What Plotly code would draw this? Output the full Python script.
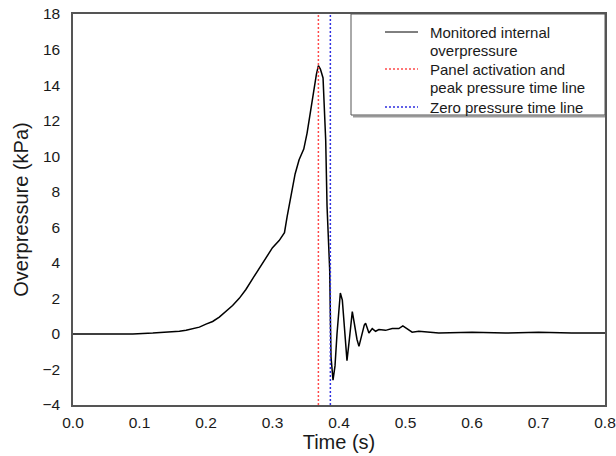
import plotly.graph_objects as go

# Monitored internal overpressure
time_s = [0.00, 0.03, 0.06, 0.09, 0.12, 0.14, 0.16, 0.17, 0.18, 0.19, 0.20, 0.21, 0.22,
          0.23, 0.24, 0.25, 0.26, 0.27, 0.28, 0.29, 0.30, 0.31, 0.318, 0.322, 0.328,
          0.334, 0.340, 0.347, 0.352, 0.357, 0.362, 0.366, 0.369, 0.372, 0.376, 0.378,
          0.380, 0.382, 0.384, 0.386, 0.387, 0.388, 0.391, 0.394, 0.397, 0.400, 0.402,
          0.405, 0.407, 0.410, 0.412, 0.415, 0.418, 0.420, 0.423, 0.427, 0.430, 0.434,
          0.438, 0.440, 0.445, 0.450, 0.455, 0.460, 0.470, 0.480, 0.490, 0.496, 0.500,
          0.510, 0.520, 0.550, 0.600, 0.650, 0.700, 0.750, 0.800]
pressure_kpa = [0.0, 0.0, 0.0, 0.0, 0.05, 0.08, 0.15, 0.2, 0.28, 0.38, 0.55, 0.7, 0.95,
                1.25, 1.6, 2.0, 2.5, 3.1, 3.7, 4.3, 4.85, 5.25, 5.7, 6.6, 7.8,
                9.0, 9.8, 10.4, 11.3, 12.5, 13.7, 14.6, 15.1, 14.9, 14.4, 12.8,
                10.9, 7.2, 5.0, 3.6, 1.0, -1.3, -2.6, -1.8, 0.0, 1.6, 2.3,
                1.9, 1.0, -0.5, -1.5, -0.5, 0.8, 1.25, 0.6, -0.3, -0.7, 0.0,
                0.5, 0.6, 0.05, 0.3, 0.15, 0.25, 0.2, 0.3, 0.3, 0.45, 0.35,
                0.1, 0.15, 0.05, 0.1, 0.05, 0.1, 0.05, 0.05]

# Time lines
peak_time = 0.369
zero_time = 0.387
y_range = [-4, 18]
x_range = [0, 0.8]

x_ticks = [0.0, 0.1, 0.2, 0.3, 0.4, 0.5, 0.6, 0.7, 0.8]
y_ticks = [-4, -2, 0, 2, 4, 6, 8, 10, 12, 14, 16, 18]

legend_labels = [["Monitored internal", "overpressure"],
                 ["Panel activation and", "peak pressure time line"],
                 ["Zero pressure time line"]]

FONT = "Liberation Sans, Arial, sans-serif"
TXT = "#1a1a1a"
BLACK_LINE = dict(color="black", width=1.5)
RED_LINE = dict(color="#ff4a4a", width=1.5, dash="2px,2px")
BLUE_LINE = dict(color="#2e2ee0", width=1.5, dash="2px,2px")

# figure / plot-area geometry in pixels
W, H = 616, 456
L, R, T, B = 73, 605, 14, 405


def px(xp):
    return (xp - L) / (R - L)


def py(yp):
    return (B - yp) / (B - T)


fig = go.Figure()
fig.add_trace(go.Scatter(x=time_s, y=pressure_kpa, mode="lines",
                         name="Monitored internal overpressure", line=BLACK_LINE,
                         showlegend=False))
fig.add_trace(go.Scatter(x=[peak_time, peak_time], y=y_range, mode="lines",
                         name="Panel activation and peak pressure time line",
                         line=RED_LINE, showlegend=False))
fig.add_trace(go.Scatter(x=[zero_time, zero_time], y=y_range, mode="lines",
                         name="Zero pressure time line", line=BLUE_LINE,
                         showlegend=False))

axis_common = dict(
    showgrid=False, zeroline=False, showline=True, mirror=True,
    linecolor="#555555", linewidth=1.5, ticks="", automargin=False,
    ticklabeloverflow="allow",
    tickfont=dict(family=FONT, size=15.5, color=TXT),
)

fig.update_xaxes(
    range=x_range, tickvals=x_ticks, tickformat=".1f",
    title=dict(text="Time (s)", font=dict(family=FONT, size=20, color=TXT), standoff=0),
    ticklabelstandoff=3,
    **axis_common,
)
fig.update_yaxes(
    range=y_range, tickvals=y_ticks,
    title=dict(text="Overpressure (kPa)", font=dict(family=FONT, size=20, color=TXT), standoff=8),
    ticklabelstandoff=8,
    **axis_common,
)

# ---- legend box drawn in the plot's top-right corner ----
shapes = []
annotations = []
# shadow
shapes.append(dict(type="line", xref="paper", yref="paper",
                   x0=px(353), x1=px(R), y0=py(116.5), y1=py(116.5),
                   line=dict(color="#9a9a9a", width=2), layer="above"))
# box
shapes.append(dict(type="rect", xref="paper", yref="paper",
                   x0=px(351), x1=px(R), y0=py(115), y1=py(T),
                   line=dict(color="#555555", width=1), fillcolor="white", layer="above"))
sample_y = [32, 69, 107]
sample_style = [BLACK_LINE, RED_LINE, BLUE_LINE]
for yy, st in zip(sample_y, sample_style):
    shapes.append(dict(type="line", xref="paper", yref="paper",
                       x0=px(385), x1=px(418), y0=py(yy), y1=py(yy),
                       line=dict(color=st["color"], width=1 if st is BLACK_LINE else 1.5,
                                 dash=st.get("dash", "solid")),
                       layer="above"))
text_rows = [32, 50.5, 69, 87.5, 107]
flat_labels = [s for group in legend_labels for s in group]
for yy, s in zip(text_rows, flat_labels):
    annotations.append(dict(xref="paper", yref="paper", x=px(428), y=py(yy),
                            xanchor="left", yanchor="middle", text=s, showarrow=False,
                            font=dict(family=FONT, size=15, color=TXT)))

fig.update_layout(
    width=W, height=H,
    margin=dict(l=L, r=W - R, t=T, b=H - B),
    plot_bgcolor="white", paper_bgcolor="white",
    font=dict(family=FONT, size=15, color=TXT),
    showlegend=False,
    shapes=shapes, annotations=annotations,
)

fig.write_html("out.html")
